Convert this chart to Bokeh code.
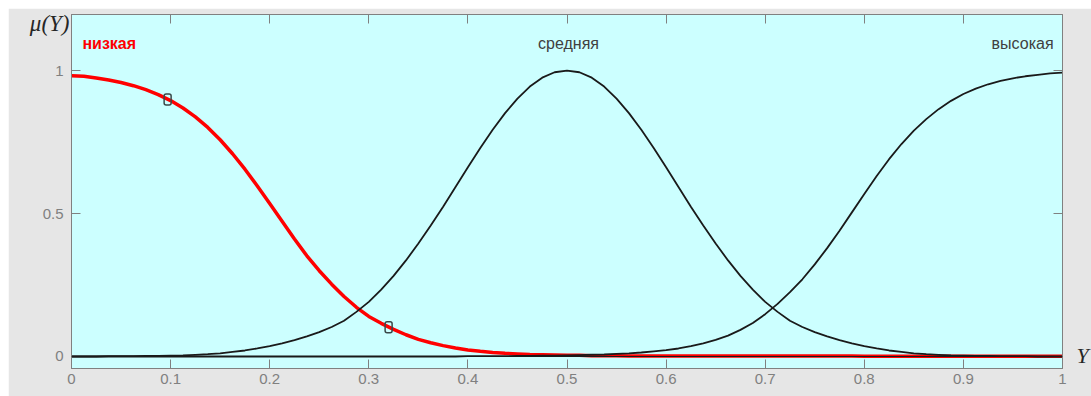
from bokeh.plotting import figure
from bokeh.models import Range1d, FixedTicker, LinearAxis, Label, Span
from bokeh.embed import file_html
from bokeh.resources import INLINE

# ---- data ----
x_vals = [0, 0.0125, 0.025, 0.0375, 0.05, 0.0625, 0.075, 0.0875, 0.1, 0.1125,
          0.125, 0.1375, 0.15, 0.1625, 0.175, 0.1875, 0.2, 0.2125, 0.225, 0.2375,
          0.25, 0.2625, 0.275, 0.2875, 0.3, 0.3125, 0.325, 0.3375, 0.35, 0.3625,
          0.375, 0.3875, 0.4, 0.4125, 0.425, 0.4375, 0.45, 0.4625, 0.475, 0.4875,
          0.5, 0.5125, 0.525, 0.5375, 0.55, 0.5625, 0.575, 0.5875, 0.6, 0.6125,
          0.625, 0.6375, 0.65, 0.6625, 0.675, 0.6875, 0.7, 0.7125, 0.725, 0.7375,
          0.75, 0.7625, 0.775, 0.7875, 0.8, 0.8125, 0.825, 0.8375, 0.85, 0.8625,
          0.875, 0.8875, 0.9, 0.9125, 0.925, 0.9375, 0.95, 0.9625, 0.975, 0.9875, 1.0]

mu_low = [0.982, 0.980, 0.974, 0.967, 0.958, 0.947, 0.933, 0.916, 0.895, 0.869,
          0.838, 0.801, 0.758, 0.709, 0.655, 0.596, 0.535, 0.473, 0.411, 0.352,
          0.300, 0.253, 0.210, 0.172, 0.140, 0.116, 0.095, 0.076, 0.060, 0.048,
          0.038, 0.030, 0.023, 0.018, 0.014, 0.011, 0.009, 0.007, 0.006, 0.005,
          0.004, 0.004, 0.003, 0.003, 0.003, 0.002, 0.002, 0.002, 0.002, 0.002,
          0.002, 0.002, 0.002, 0.002, 0.002, 0.002, 0.002, 0.002, 0.002, 0.002,
          0.002, 0.002, 0.002, 0.002, 0.001, 0.001, 0.001, 0.001, 0.001, 0.001,
          0.001, 0.001, 0.001, 0.001, 0.001, 0.001, 0.001, 0.001, 0.001, 0.001, 0.001]

mu_mid = [0, 0, 0, 0.001, 0.001, 0.001, 0.002, 0.002, 0.003, 0.004,
          0.006, 0.008, 0.011, 0.016, 0.021, 0.028, 0.036, 0.046, 0.057, 0.070,
          0.085, 0.103, 0.125, 0.156, 0.191, 0.234, 0.282, 0.336, 0.395, 0.458,
          0.524, 0.593, 0.662, 0.729, 0.793, 0.851, 0.902, 0.944, 0.975, 0.994,
          1.0,
          0.994, 0.975, 0.944, 0.902, 0.851, 0.793, 0.729, 0.662, 0.593, 0.524,
          0.458, 0.395, 0.336, 0.282, 0.234, 0.191, 0.156, 0.125, 0.103, 0.085,
          0.070, 0.057, 0.046, 0.036, 0.028, 0.021, 0.016, 0.011, 0.008, 0.006,
          0.004, 0.003, 0.002, 0.002, 0.001, 0.001, 0.001, 0, 0, 0]

mu_high = [0, 0, 0, 0, 0, 0, 0, 0, 0, 0,
           0, 0, 0, 0, 0, 0, 0, 0, 0, 0,
           0, 0, 0, 0, 0, 0, 0, 0, 0, 0,
           0, 0, 0.001, 0.001, 0.001, 0.001, 0.002, 0.002, 0.003, 0.003,
           0.004, 0.005, 0.006, 0.007, 0.009, 0.011, 0.014, 0.018, 0.022, 0.028,
           0.036, 0.046, 0.058, 0.073, 0.093, 0.117, 0.148, 0.184, 0.225, 0.270,
           0.322, 0.379, 0.440, 0.504, 0.568, 0.631, 0.690, 0.743, 0.790, 0.830,
           0.865, 0.894, 0.918, 0.937, 0.952, 0.964, 0.973, 0.980, 0.985, 0.990, 0.993]

handle_x = [0.097, 0.320]
handle_y = [0.899, 0.102]

x_ticks = [0, 0.1, 0.2, 0.3, 0.4, 0.5, 0.6, 0.7, 0.8, 0.9, 1.0]
x_tick_labels = ["0", "0.1", "0.2", "0.3", "0.4", "0.5", "0.6", "0.7", "0.8", "0.9", "1"]
y_ticks = [0, 0.5, 1]
y_tick_labels = ["0", "0.5", "1"]

mf_names = ["низкая", "средняя", "высокая"]
y_name = "μ(Y)"
y_name_pos = 1.164
x_name = "Y"
x_name_pos = 0.002

# ---- styles ----
GRAY = "#808080"
TICK_FONT = "Liberation Sans"

p = figure(width=1083, height=388, margin=(8, 0, 0, 8),
           x_range=Range1d(0, 1), y_range=Range1d(-0.042, 1.196),
           output_backend="svg", toolbar_location=None,
           min_border_left=63, min_border_right=29,
           min_border_top=6, min_border_bottom=28,
           background_fill_color="#ccffff", border_fill_color="#e6e6e6",
           outline_line_color=GRAY, outline_line_width=1)
p.grid.visible = False


def ticks_only(ax, ticks):
    ax.ticker = FixedTicker(ticks=ticks)
    ax.major_tick_in = 9
    ax.major_tick_out = 0
    ax.minor_tick_line_color = None
    ax.major_tick_line_color = GRAY
    ax.axis_line_color = GRAY


def labelled(ax, ticks, labels, standoff):
    ticks_only(ax, ticks)
    ax.major_label_overrides = {t: l for t, l in zip(ticks, labels)}
    ax.major_label_text_font = TICK_FONT
    ax.major_label_text_font_size = "15px"
    ax.major_label_text_color = GRAY
    ax.major_label_standoff = standoff


def unlabelled(ax, ticks):
    ticks_only(ax, ticks)
    ax.major_label_text_font_size = "0px"
    ax.major_label_text_color = None
    ax.major_label_standoff = 0


def name_axis(pos, text, standoff, size):
    return LinearAxis(ticker=FixedTicker(ticks=[pos]),
                      major_label_overrides={pos: text},
                      major_tick_line_color=None, minor_tick_line_color=None,
                      axis_line_color=None, major_label_standoff=standoff,
                      major_label_text_font="Liberation Serif",
                      major_label_text_font_style="italic",
                      major_label_text_font_size=size,
                      major_label_text_color="#262626")


labelled(p.xaxis[0], x_ticks, x_tick_labels, 5)
labelled(p.yaxis[0], y_ticks, y_tick_labels, 8)

ax_top = LinearAxis()
unlabelled(ax_top, x_ticks)
p.add_layout(ax_top, "above")

ax_right = LinearAxis()
unlabelled(ax_right, y_ticks)
p.add_layout(ax_right, "right")

# axis names: "Y" at the right, level with zero; "μ(Y)" at the top left
p.add_layout(name_axis(x_name_pos, x_name, 8, "22px"), "right")
p.add_layout(name_axis(y_name_pos, y_name, -36, "23px"), "left")

# zero baseline
p.add_layout(Span(location=0, dimension="width", line_color="#1a1a1a", line_width=1))

# curves
p.line(x_vals, mu_low, line_color="#ff0000", line_width=3.5)
p.line(x_vals, mu_mid, line_color="#1a1a1a", line_width=1.8)
p.line(x_vals, mu_high, line_color="#1a1a1a", line_width=1.8)

# handles
p.rect(x=handle_x, y=handle_y, width=7, height=11,
       width_units="screen", height_units="screen",
       fill_alpha=0, line_color="#3a4848", line_width=1.5, border_radius=2)

# MF names
name_y = 1.094
p.add_layout(Label(x=0.011, y=name_y, text=mf_names[0], text_color="#ff0000",
                   text_font=TICK_FONT, text_font_style="bold", text_font_size="16px",
                   text_align="left", text_baseline="alphabetic"))
p.add_layout(Label(x=0.5015, y=name_y, text=mf_names[1], text_color="#404040",
                   text_font=TICK_FONT, text_font_size="16px",
                   text_align="center", text_baseline="alphabetic"))
p.add_layout(Label(x=0.991, y=name_y, text=mf_names[2], text_color="#404040",
                   text_font=TICK_FONT, text_font_size="16px",
                   text_align="right", text_baseline="alphabetic"))

open("out.html", "w").write(file_html(p, INLINE))
